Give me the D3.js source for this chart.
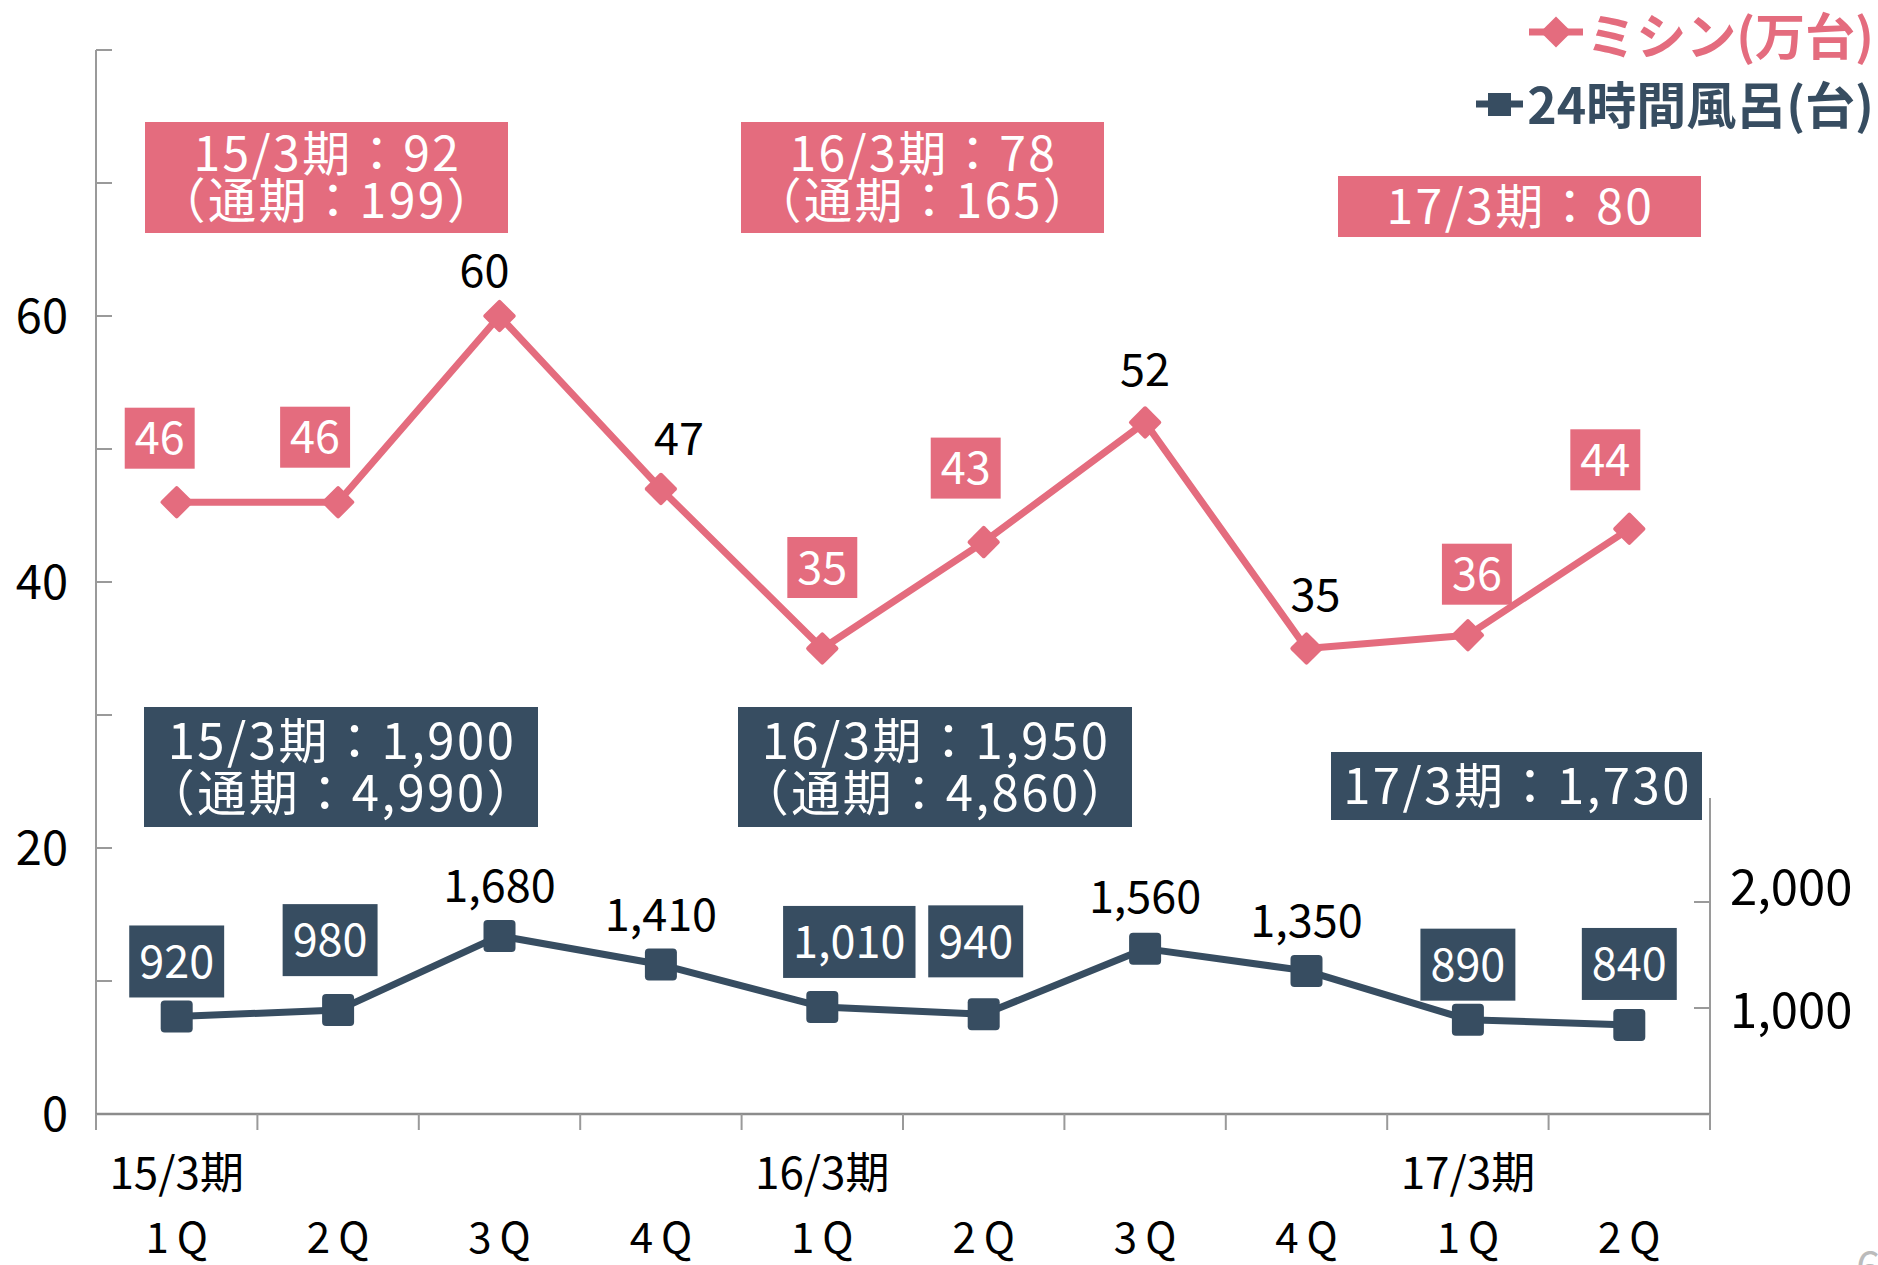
<!DOCTYPE html>
<html>
<head>
<meta charset="utf-8">
<script src="https://cdn.jsdelivr.net/npm/d3@7"></script>
<style>
	body { margin: 0; background: #fff; }
	text { font-family: "Noto Sans CJK JP", "Noto Sans", sans-serif; }
</style>
</head>
<body>
<div id="viz"></div>
<script>
// quarters along the X axis, fiscal year label sits under each 1Q
var quarters = ['1Q', '2Q', '3Q', '4Q', '1Q', '2Q', '3Q', '4Q', '1Q', '2Q'];
var fiscalYears = ['15/3期', '', '', '', '16/3期', '', '', '', '17/3期', ''];

// ミシン(万台), left axis
var sewing = [46, 46, 60, 47, 35, 43, 52, 35, 36, 44];
// 24時間風呂(台), right axis
var bath = [920, 980, 1680, 1410, 1010, 940, 1560, 1350, 890, 840];

// labels shown in a filled box (the rest are plain black)
var boxed = [true, true, false, false, true, true, false, false, true, true];

var leftTicks = [0, 10, 20, 30, 40, 50, 60, 70, 80];
var leftLabels = [0, 20, 40, 60];
var rightTicks = [1000, 2000];

var sewingNotes = [
	['15/3期：92', '（通期：199）'],
	['16/3期：78', '（通期：165）'],
	['17/3期：80']
];
var bathNotes = [
	['15/3期：1,900', '（通期：4,990）'],
	['16/3期：1,950', '（通期：4,860）'],
	['17/3期：1,730']
];

var legendNames = ['ミシン(万台)', '24時間風呂(台)'];

buildViz();

function buildViz(){

	var width = 1878,
		height = 1265,
		left = 96,
		right = 1710,
		bottom = 1114,
		pink = '#E46C7E',
		navy = '#374D61',
		axisColor = '#9a9a9a';

	// hand placed label nudges (px from the point), like in the slide
	var sewingNudge = [[-17,-64],[-23,-65],[-15,-45],[18,-50],[0,-81],[-18,-74],[0,-53],[9,-54],[9,-61],[-24,-69]];
	var bathNudge = [[0,-55],[-8,-70],[0,-50],[0,-50],[27,-65],[-8,-73],[0,-52],[0,-50],[0,-55],[0,-61]];
	// right axis labels sit a little off their ticks in the slide
	var rightLabelNudge = [2, -15];

	// note boxes [x, y, w, h, line gap]
	var sewingBoxes = [[145,122,363,111,47],[741,122,363,111,47],[1338,176,363,61,0]];
	var bathBoxes = [[144,707,394,120,52],[738,707,394,120,52],[1331,752,371,68,0]];

	var svg = d3.select('#viz')
		.append('svg')
		.attr('width', width)
		.attr('height', height);

	var x = d3.scaleBand()
		.domain(d3.range(quarters.length))
		.range([left, right]);

	var yLeft = d3.scaleLinear()
		.domain([0, 80])
		.range([bottom, 50]);

	var yRight = d3.scaleLinear()
		.domain([0, 3000])
		.range([bottom, 796]);

	function cx(i){ return x(i) + x.bandwidth()/2; }

	// axes
	var axes = svg.append('g');

	axes.append('line')
		.attr('x1', left).attr('x2', left)
		.attr('y1', yLeft(80)).attr('y2', bottom + 16)
		.style('stroke', axisColor).style('stroke-width', 2);

	axes.selectAll('.ltick')
		.data(leftTicks)
		.enter().append('line')
			.attr('x1', left).attr('x2', left + 16)
			.attr('y1', function(d){ return yLeft(d); })
			.attr('y2', function(d){ return yLeft(d); })
			.style('stroke', axisColor).style('stroke-width', 2);

	axes.selectAll('.llabel')
		.data(leftLabels)
		.enter().append('text')
			.attr('x', 68)
			.attr('y', function(d){ return yLeft(d); })
			.attr('dy', '0.36em')
			.attr('text-anchor', 'end')
			.style('font-size', '47px')
			.text(function(d){ return d; });

	axes.append('line')
		.attr('x1', right).attr('x2', right)
		.attr('y1', yRight(3000) + 2).attr('y2', bottom + 16)
		.style('stroke', axisColor).style('stroke-width', 2);

	axes.selectAll('.rtick')
		.data(rightTicks)
		.enter().append('line')
			.attr('x1', right - 16).attr('x2', right)
			.attr('y1', function(d){ return yRight(d); })
			.attr('y2', function(d){ return yRight(d); })
			.style('stroke', axisColor).style('stroke-width', 2);

	axes.selectAll('.rlabel')
		.data(rightTicks)
		.enter().append('text')
			.attr('x', 1730)
			.attr('y', function(d,i){ return yRight(d) + rightLabelNudge[i]; })
			.attr('dy', '0.36em')
			.style('font-size', '49px')
			.text(function(d){ return d3.format(',')(d); });

	axes.append('line')
		.attr('x1', left).attr('x2', right)
		.attr('y1', bottom).attr('y2', bottom)
		.style('stroke', '#8c8c8c').style('stroke-width', 2.5);

	axes.selectAll('.xtick')
		.data(d3.range(quarters.length + 1))
		.enter().append('line')
			.attr('x1', function(d){ return left + d*x.bandwidth(); })
			.attr('x2', function(d){ return left + d*x.bandwidth(); })
			.attr('y1', bottom).attr('y2', bottom + 16)
			.style('stroke', axisColor).style('stroke-width', 2);

	axes.selectAll('.fy')
		.data(fiscalYears)
		.enter().append('text')
			.attr('x', function(d,i){ return cx(i); })
			.attr('y', 1189)
			.attr('text-anchor', 'middle')
			.style('font-size', '44px')
			.text(function(d){ return d; });

	axes.selectAll('.q')
		.data(quarters)
		.enter().append('text')
			.attr('x', function(d,i){ return cx(i) + 4; })
			.attr('y', 1253)
			.attr('text-anchor', 'middle')
			.style('font-size', '42px')
			.style('letter-spacing', '8px')
			.text(function(d){ return d; });

	// note boxes
	function notes(list, boxes, color, size){
		var g = svg.append('g');
		list.forEach(function(lines, k){
			var b = boxes[k];
			g.append('rect')
				.attr('x', b[0]).attr('y', b[1])
				.attr('width', b[2]).attr('height', b[3])
				.style('fill', color);
			var mid = b[1] + b[3]/2;
			var first = mid - b[4]*(lines.length - 1)/2;
			lines.forEach(function(t, j){
				g.append('text')
					.attr('x', b[0] + b[2]/2 + 1)
					.attr('y', first + j*b[4])
					.attr('dy', '0.36em')
					.attr('text-anchor', 'middle')
					.style('font-size', size + 'px')
					.style('letter-spacing', '2.5px')
					.style('fill', '#fff')
					.text(t);
			});
		});
	}
	notes(sewingNotes, sewingBoxes, pink, 48);
	notes(bathNotes, bathBoxes, navy, 49);

	// lines
	var sewingLine = d3.line()
		.x(function(d,i){ return cx(i); })
		.y(function(d){ return yLeft(d); });
	var bathLine = d3.line()
		.x(function(d,i){ return cx(i); })
		.y(function(d){ return yRight(d); });

	svg.append('path')
		.attr('d', sewingLine(sewing))
		.style('fill', 'none').style('stroke', pink)
		.style('stroke-width', 7).style('stroke-linejoin', 'round');

	svg.append('path')
		.attr('d', bathLine(bath))
		.style('fill', 'none').style('stroke', navy)
		.style('stroke-width', 7).style('stroke-linejoin', 'round');

	svg.selectAll('.diamond')
		.data(sewing)
		.enter().append('rect')
			.attr('x', -12).attr('y', -12)
			.attr('width', 24).attr('height', 24)
			.attr('rx', 2)
			.attr('transform', function(d,i){ return 'translate(' + cx(i) + ',' + yLeft(d) + ') rotate(45)'; })
			.style('fill', pink);

	svg.selectAll('.square')
		.data(bath)
		.enter().append('rect')
			.attr('x', function(d,i){ return cx(i) - 16; })
			.attr('y', function(d){ return yRight(d) - 16; })
			.attr('width', 32).attr('height', 32)
			.attr('rx', 4)
			.style('fill', navy);

	// data labels
	function dataLabels(values, yScale, nudge, color, boxH, fmt){
		var g = svg.append('g');
		values.forEach(function(v, i){
			var px = cx(i) + nudge[i][0],
				py = yScale(v) + nudge[i][1];
			var rect = g.append('rect');
			var t = g.append('text')
				.attr('x', px)
				.attr('y', py)
				.attr('dy', '0.36em')
				.attr('text-anchor', 'middle')
				.style('font-size', '45px')
				.style('fill', boxed[i] ? '#fff' : '#000')
				.text(fmt(v));
			if (boxed[i]) {
				var w = t.node().getBBox().width + 20;
				rect.attr('x', px - w/2).attr('y', py - boxH/2)
					.attr('width', w).attr('height', boxH)
					.style('fill', color);
			} else {
				rect.remove();
			}
		});
	}
	dataLabels(sewing, yLeft, sewingNudge, pink, 61, d3.format('d'));
	dataLabels(bath, yRight, bathNudge, navy, 72, d3.format(','));

	// legend, top right
	var legend = svg.append('g');
	var legendColors = [pink, navy];
	var legendY = [37, 106];

	legend.selectAll('.legend-line')
		.data(legendNames)
		.enter().append('line')
			.attr('x1', function(d,i){ return i ? 1476 : 1529; })
			.attr('x2', function(d,i){ return i ? 1523 : 1583; })
			.attr('y1', function(d,i){ return legendY[i] - (i ? 2 : 5); })
			.attr('y2', function(d,i){ return legendY[i] - (i ? 2 : 5); })
			.style('stroke', function(d,i){ return legendColors[i]; })
			.style('stroke-width', 7);

	legend.append('rect')
		.attr('x', -11).attr('y', -11).attr('width', 22).attr('height', 22)
		.attr('transform', 'translate(1556,' + (legendY[0] - 5) + ') rotate(45)')
		.style('fill', pink);

	legend.append('rect')
		.attr('x', 1488).attr('y', legendY[1] - 13)
		.attr('width', 23).attr('height', 23)
		.style('fill', navy);

	legend.selectAll('.legend-text')
		.data(legendNames)
		.enter().append('text')
			.attr('x', 1874)
			.attr('y', function(d,i){ return legendY[i]; })
			.attr('dy', '0.36em')
			.attr('text-anchor', 'end')
			.style('font-size', '50px')
			.style('font-weight', 'bold')
			.style('fill', function(d,i){ return legendColors[i]; })
			.text(function(d){ return d; });

	// page number peeking in at the corner
	svg.append('text')
		.attr('x', 1856).attr('y', 1283)
		.style('font-size', '44px')
		.style('fill', '#bbb')
		.text('6');
}
</script>
</body>
</html>
